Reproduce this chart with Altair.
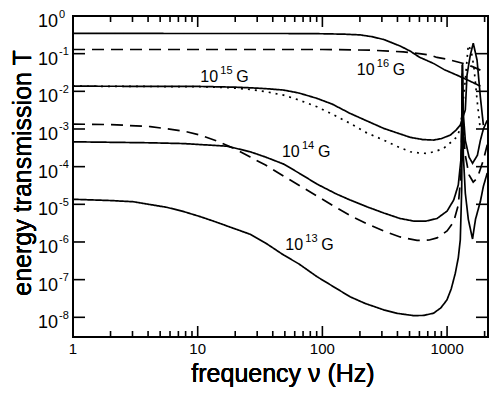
import altair as alt
import pandas as pd

# ---------------- data ----------------
f_16s = [1, 50, 100, 150, 201, 250, 310, 360, 423, 507, 600, 780, 950, 1200, 1500, 1850]
T_16s = [0.344, 0.343, 0.338, 0.329, 0.315, 0.282, 0.238, 0.196, 0.158, 0.1165, 0.0807, 0.0549,
         0.0376, 0.0269, 0.0192, 0.0137]

f_16d = [1, 100, 240, 446, 600, 736, 830, 1000, 1355, 1600, 1850]
T_16d = [0.129, 0.129, 0.124, 0.1116, 0.100, 0.0912, 0.0793, 0.0715, 0.055, 0.0452, 0.0365]

f_15s = [1, 10, 20, 26.4, 35, 48.9, 65, 90.5, 120, 167, 220, 310, 400, 507, 640, 780, 900, 1062,
         1180, 1276, 1400, 1445, 1535, 1622, 1740, 1849, 1955]
T_15s = [0.0137, 0.0135, 0.0129, 0.0124, 0.0118, 0.0108, 0.0090, 0.0065, 0.00457, 0.00259, 0.00172,
         0.00104, 0.00078, 0.0006, 0.000523, 0.000508, 0.000556, 0.000689, 0.000935, 0.00127, 0.0032,
         0.027, 0.091, 0.19, 0.067, 0.0071, 0.00126]

f_15d = [1, 10, 18, 26.4, 35, 48.9, 65, 90.5, 120, 167, 220, 310, 400, 507, 600, 690, 800, 937,
         1080, 1200, 1280, 1324, 1400, 1479, 1560, 1640, 1740, 1849]
T_15d = [0.0137, 0.0133, 0.0125, 0.0112, 0.0098, 0.0079, 0.00585, 0.00388, 0.00248, 0.00141,
         0.000828, 0.000508, 0.000341, 0.000248, 0.00023, 0.000225, 0.000252, 0.000306, 0.00045,
         0.000621, 0.00106, 0.0032, 0.02, 0.168, 0.12, 0.045, 0.0059, 0.00093]

f_14s = [1, 4.17, 7.7, 17.2, 26.4, 35, 48.9, 66.7, 90.5, 130, 167, 230, 310, 420, 538, 680, 830, 1000,
         1130, 1230, 1290, 1312, 1324, 1345, 1400, 1500, 1600, 1750, 1850, 1955, 2100]
T_14s = [4.57e-4, 4.3e-4, 4.1e-4, 3.5e-4, 2.48e-4, 1.8e-4, 1.17e-4, 6.4e-5, 3.45e-5, 1.87e-5, 1.3e-5,
         8.5e-6, 5.9e-6, 4.2e-6, 3.6e-6, 3.6e-6, 4.2e-6, 6.6e-6, 1.3e-5, 3.25e-5, 1.5e-4, 2e-3, 0.05,
         3e-3, 5e-4, 1.8e-4, 1.23e-4, 2e-4, 5e-4, 1e-3, 1.7e-3]

f_14d = [1, 2, 4.17, 7.7, 10.5, 14.3, 20, 26.4, 35, 48.9, 66.7, 90.5, 123, 170, 230, 310, 420, 574,
         720, 830, 1000, 1128, 1230, 1290, 1312, 1324, 1345, 1400, 1500, 1620, 1750, 1955, 2100]
T_14d = [1.35e-3, 1.31e-3, 1.16e-3, 8.8e-4, 6.9e-4, 4.8e-4, 2.93e-4, 1.8e-4, 1.1e-4, 5.6e-5, 3.05e-5,
         1.66e-5, 9.0e-6, 4.9e-6, 3.0e-6, 1.96e-6, 1.36e-6, 1.10e-6, 1.13e-6, 1.28e-6, 1.96e-6, 3.4e-6,
         9.6e-6, 6e-5, 8e-4, 0.03, 1e-3, 2e-4, 6e-5, 3.9e-5, 5e-5, 1.5e-4, 3.8e-4]

f_13s = [1, 2, 3.06, 5.67, 7.5, 10.5, 14, 19.4, 26.4, 35, 48.9, 65, 90.5, 120, 167, 220, 310, 400, 538,
         650, 780, 890, 998, 1080, 1164, 1230, 1276, 1310, 1330, 1350, 1400, 1480, 1600, 1690, 1850,
         1955, 2100]
T_13s = [1.36e-5, 1.26e-5, 1.17e-5, 8.3e-6, 6.6e-6, 4.7e-6, 3.4e-6, 2.3e-6, 1.6e-6, 9.4e-7, 4.5e-7,
         2.6e-7, 1.2e-7, 6.8e-8, 3.5e-8, 2.34e-8, 1.58e-8, 1.27e-8, 1.11e-8, 1.12e-8, 1.29e-8, 1.77e-8,
         2.9e-8, 5.7e-8, 1.48e-7, 3.8e-7, 1.13e-6, 2.5e-5, 0.056, 2e-4, 2e-5, 4e-6, 1.2e-6, 4e-6,
         1.2e-5, 3e-5, 6.8e-5]

curve_names = ["16s", "16d", "15s", "15d", "14s", "14d", "13s"]
curve_styles = ["solid", "dashed", "solid", "dotted", "solid", "dashed", "solid"]
curve_f = [f_16s, f_16d, f_15s, f_15d, f_14s, f_14d, f_13s]
curve_T = [T_16s, T_16d, T_15s, T_15d, T_14s, T_14d, T_13s]

# curve annotations: 10^exp G  (left edge / baseline position in data units)
label_f = [10.5, 189, 47.4, 50.4]
label_T = [0.0175, 0.0269, 1.8e-4, 6.1e-7]
label_exp = ["15", "16", "14", "13"]

x_major = [1, 10, 100, 1000]
x_major_text = ["1", "10", "100", "1000"]
x_minor = [2, 3, 4, 5, 6, 7, 8, 9, 20, 30, 40, 50, 60, 70, 80, 90,
           200, 300, 400, 500, 600, 700, 800, 900, 2000]
y_major = [1e0, 1e-1, 1e-2, 1e-3, 1e-4, 1e-5, 1e-6, 1e-7, 1e-8]
y_exp_text = ["0", "-1", "-2", "-3", "-4", "-5", "-6", "-7", "-8"]

# ---------------- build tables ----------------
rows = []
for name, style, fs, ts in zip(curve_names, curve_styles, curve_f, curve_T):
    for i, (f, t) in enumerate(zip(fs, ts)):
        rows.append({"curve": name, "style": style, "f": f, "T": t, "i": i})
df = pd.DataFrame(rows)
lab = pd.DataFrame({"f": label_f, "T": label_T, "e": label_exp})
xmaj = pd.DataFrame({"v": x_major, "t": x_major_text})
xmin = pd.DataFrame({"v": x_minor})
ymaj = pd.DataFrame({"v": y_major, "e": y_exp_text})

W, H = 415, 321
FONT = "Liberation Sans"
xs = alt.Scale(type="log", domain=[1, 2129], nice=False)
ys = alt.Scale(type="log", domain=[3e-9, 1], nice=False)

lines = alt.Chart(df).mark_line(color="black", strokeWidth=1.7, clip=True).encode(
    x=alt.X("f:Q", scale=xs, axis=None),
    y=alt.Y("T:Q", scale=ys, axis=None),
    detail="curve:N",
    order="i:Q",
    strokeDash=alt.StrokeDash(
        "style:N",
        scale=alt.Scale(domain=["solid", "dashed", "dotted"], range=[[1, 0], [12, 7], [2, 5]]),
        legend=None,
    ),
)

tick_style = dict(color="black", strokeWidth=1.6)
xb_major = alt.Chart(xmaj).mark_rule(**tick_style).encode(
    x=alt.X("v:Q", scale=xs), y=alt.value(H), y2=alt.value(H - 11))
xt_major = alt.Chart(xmaj).mark_rule(**tick_style).encode(
    x=alt.X("v:Q", scale=xs), y=alt.value(0), y2=alt.value(11))
xb_minor = alt.Chart(xmin).mark_rule(**tick_style).encode(
    x=alt.X("v:Q", scale=xs), y=alt.value(H), y2=alt.value(H - 6))
xt_minor = alt.Chart(xmin).mark_rule(**tick_style).encode(
    x=alt.X("v:Q", scale=xs), y=alt.value(0), y2=alt.value(6))
yl_major = alt.Chart(ymaj).mark_rule(**tick_style).encode(
    y=alt.Y("v:Q", scale=ys), x=alt.value(0), x2=alt.value(12))
yr_major = alt.Chart(ymaj).mark_rule(**tick_style).encode(
    y=alt.Y("v:Q", scale=ys), x=alt.value(W - 12), x2=alt.value(W))

x_labels = alt.Chart(xmaj).mark_text(font=FONT, fontSize=15, baseline="top", align="center").encode(
    x=alt.X("v:Q", scale=xs), y=alt.value(H + 5), text="t:N")
y_base = alt.Chart(ymaj).mark_text(font=FONT, fontSize=18, text="10", align="right",
                                   baseline="alphabetic", dy=11).encode(
    y=alt.Y("v:Q", scale=ys), x=alt.value(-15))
y_exp = alt.Chart(ymaj).mark_text(font=FONT, fontSize=11, align="left", baseline="alphabetic", dy=1.5).encode(
    y=alt.Y("v:Q", scale=ys), x=alt.value(-14), text="e:N")

lab_base = alt.Chart(lab).mark_text(font=FONT, fontSize=16, text="10", align="left",
                                    baseline="alphabetic").encode(
    x=alt.X("f:Q", scale=xs), y=alt.Y("T:Q", scale=ys))
lab_exp = alt.Chart(lab).mark_text(font=FONT, fontSize=11, align="left", baseline="alphabetic",
                                   dx=20, dy=-8).encode(
    x=alt.X("f:Q", scale=xs), y=alt.Y("T:Q", scale=ys), text="e:N")
lab_g = alt.Chart(lab).mark_text(font=FONT, fontSize=16, text="G", align="left",
                                 baseline="alphabetic", dx=36).encode(
    x=alt.X("f:Q", scale=xs), y=alt.Y("T:Q", scale=ys))

x_title = alt.Chart(xmaj).mark_text(font=FONT, fontSize=25, text="frequency ν (Hz)", align="center",
                                    baseline="alphabetic").encode(
    x=alt.value(210), y=alt.value(366))
y_title = alt.Chart(xmaj).mark_text(font=FONT, fontSize=25, text="energy transmission T", align="center",
                                    baseline="alphabetic", angle=270).encode(
    x=alt.value(-42), y=alt.value(157))

chart = alt.layer(
    lines, xb_major, xt_major, xb_minor, xt_minor, yl_major, yr_major,
    x_labels, y_base, y_exp, lab_base, lab_exp, lab_g, x_title, y_title,
).properties(
    width=W, height=H,
    autosize=alt.AutoSizeParams(type="none"),
    padding={"left": 65, "top": 8, "right": 2, "bottom": 55},
).configure_view(stroke="black", strokeWidth=2)

chart.save("out.html", embed_options={"renderer": "svg", "actions": False})
